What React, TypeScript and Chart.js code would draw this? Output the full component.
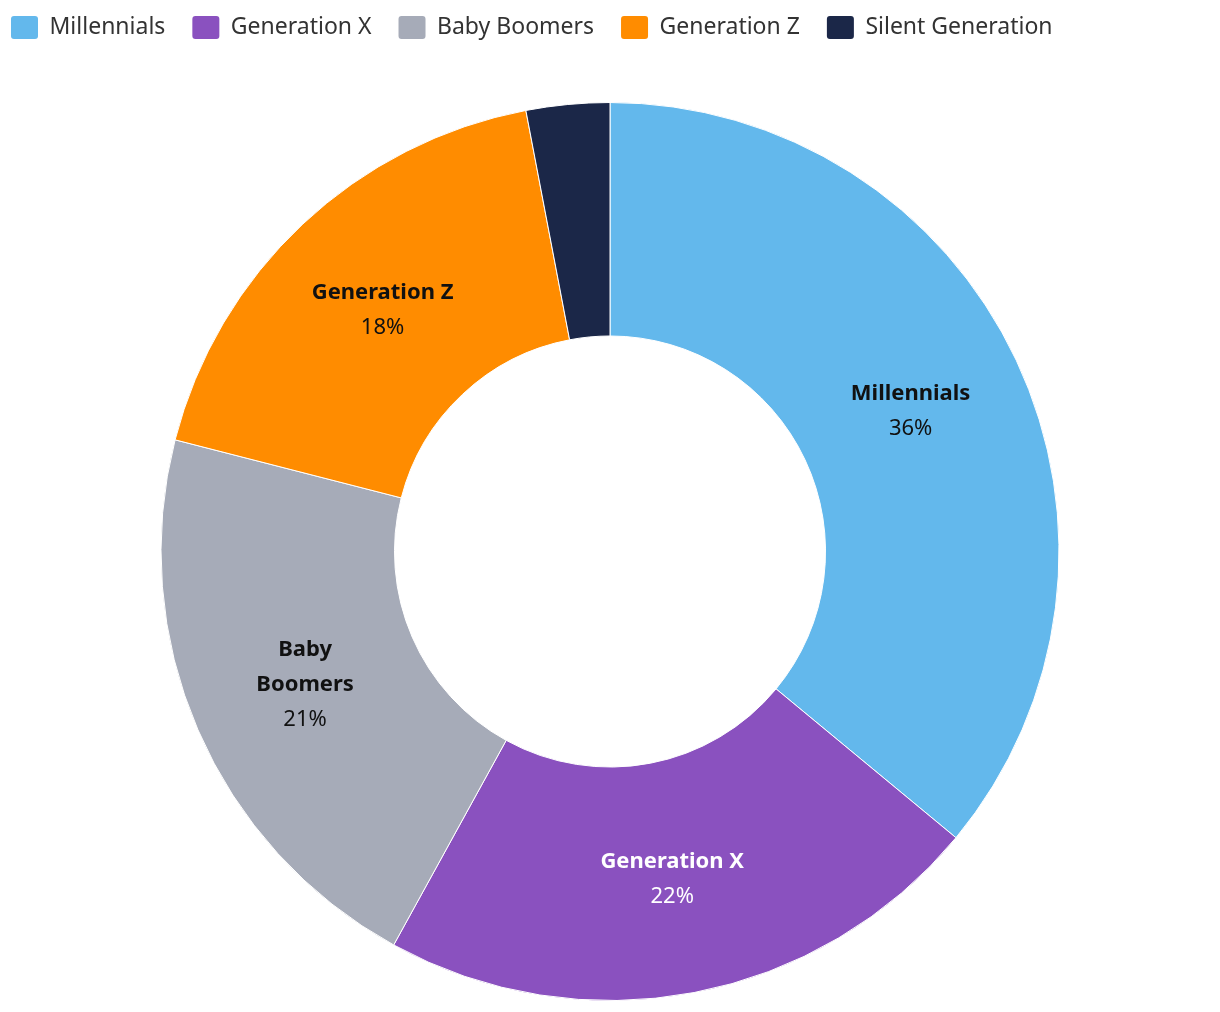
import React, { useEffect, useRef } from "react";
import { Chart, registerables } from "chart.js";

Chart.register(...registerables);

const categories = ["Millennials", "Generation X", "Baby Boomers", "Generation Z", "Silent Generation"];
const values = [36, 22, 21, 18, 3];
const colors = ["#63b8ec", "#8a51bf", "#a6abb8", "#ff8c00", "#1b2748"];
const labelTextColors = ["#111111", "#ffffff", "#111111", "#111111", "#ffffff"];
const labelLines = [["Millennials"], ["Generation X"], ["Baby", "Boomers"], ["Generation Z"], ["Silent Generation"]];

const FONT = "'Noto Sans', Lato, sans-serif";

const sliceLabels = {
  id: "sliceLabels",
  afterDatasetsDraw(chart: any) {
    const ctx = chart.ctx;
    const meta = chart.getDatasetMeta(0);
    const total = values.reduce((a, b) => a + b, 0);
    meta.data.forEach((arc: any, i: number) => {
      const pct = (values[i] / total) * 100;
      if (pct < 5) return;
      const { x, y } = arc.tooltipPosition(false);
      const lines = [
        ...labelLines[i].map((t) => ({ t, bold: true })),
        { t: Math.round(pct) + "%", bold: false },
      ];
      const lh = 35;
      const startY = y + 1 - ((lines.length - 1) * lh) / 2;
      ctx.save();
      ctx.textAlign = "center";
      ctx.textBaseline = "middle";
      ctx.fillStyle = labelTextColors[i];
      lines.forEach((ln, j) => {
        ctx.font = `${ln.bold ? "bold " : ""}22px ${FONT}`;
        ctx.fillText(ln.t, x, startY + j * lh);
      });
      ctx.restore();
    });
  },
};

const legendSpacer = {
  id: "legendSpacer",
  beforeInit(chart: any) {
    const origFit = chart.legend.fit;
    chart.legend.fit = function fit() {
      origFit.bind(chart.legend)();
      this.height += 53;
    };
  },
};

export default function App() {
  const canvasRef = useRef<HTMLCanvasElement | null>(null);

  useEffect(() => {
    if (!canvasRef.current) return;
    const chart = new Chart(canvasRef.current, {
      type: "doughnut",
      data: {
        labels: categories,
        datasets: [
          {
            data: values,
            backgroundColor: colors,
            borderColor: "#ffffff",
            borderWidth: 1,
          },
        ],
      },
      options: {
        animation: false,
        responsive: true,
        maintainAspectRatio: false,
        cutout: "48%",
        layout: { padding: { top: -19, left: -24, right: -24, bottom: 3 } },
        plugins: {
          tooltip: { enabled: false },
          legend: {
            position: "top",
            align: "start",
            labels: {
              boxWidth: 27,
              boxHeight: 23,
              padding: 27,
              color: "#333333",
              useBorderRadius: true,
              borderRadius: 3,
              font: { family: FONT, size: 23 },
              generateLabels(chart: any) {
                const items = Chart.overrides.doughnut.plugins.legend.labels.generateLabels(chart);
                return items.map((it: any) => ({ ...it, lineWidth: 0, strokeStyle: "transparent" }));
              },
            },
          },
        },
      },
      plugins: [legendSpacer, sliceLabels],
    });
    return () => chart.destroy();
  }, []);

  return (
    <div style={{ position: "relative", width: "100%", height: 996 }}>
      <canvas ref={canvasRef} />
    </div>
  );
}
